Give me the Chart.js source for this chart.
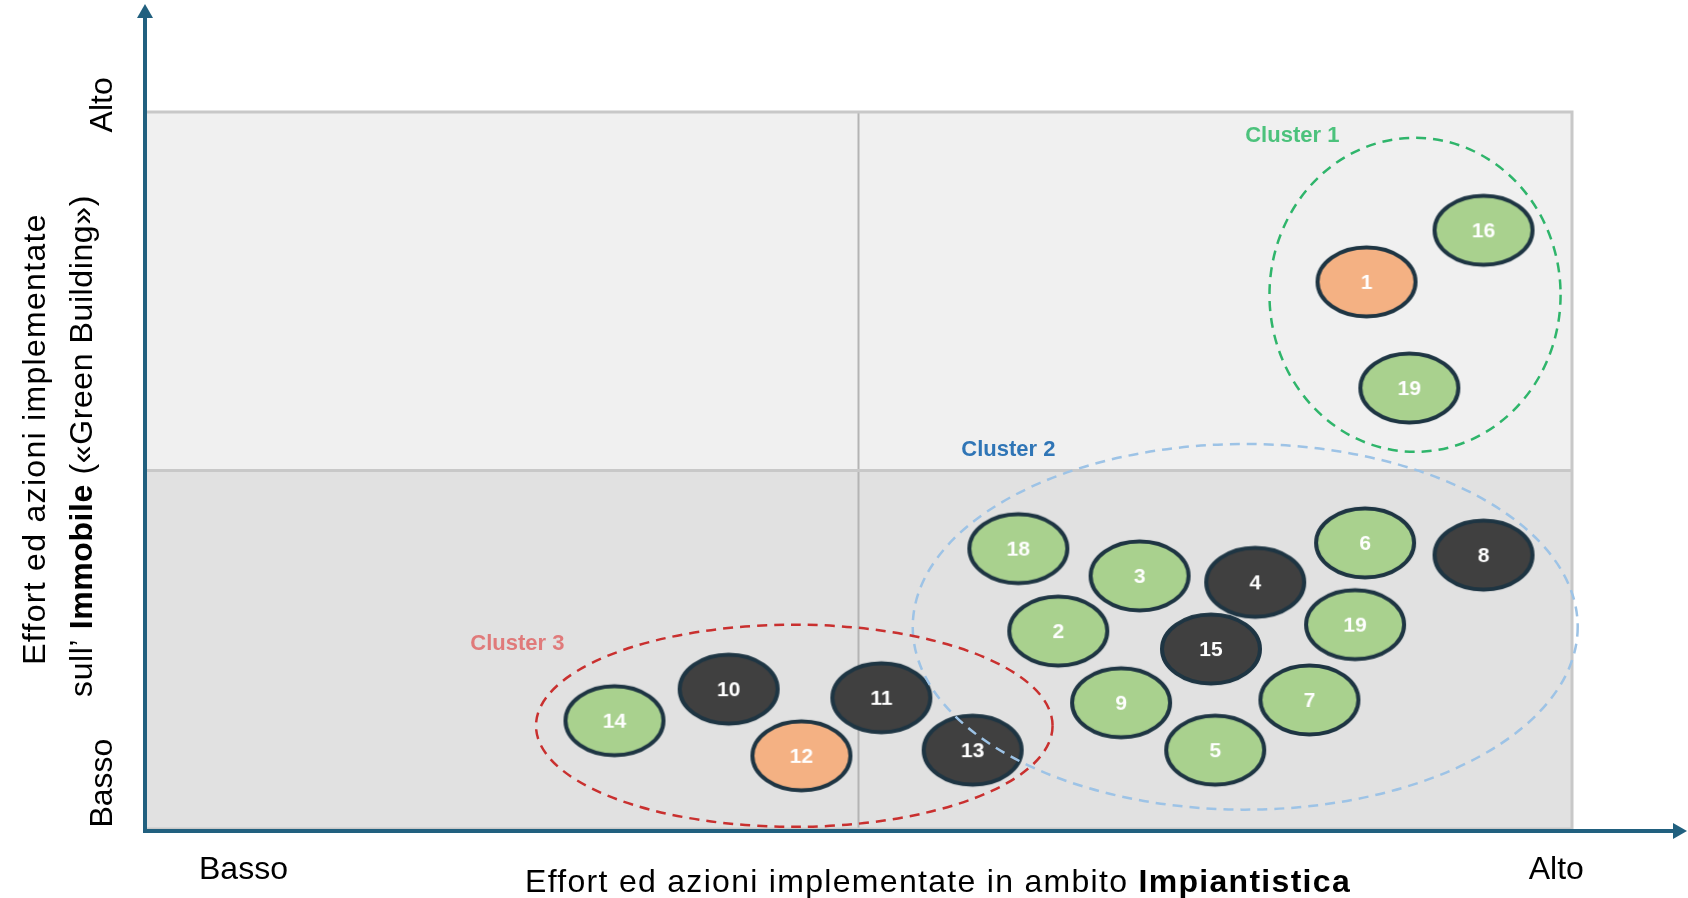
<!DOCTYPE html>
<html>
<head>
<meta charset="utf-8">
<script src="https://cdn.jsdelivr.net/npm/chart.js@4.4.1/dist/chart.umd.min.js"></script>
<style>
    html, body { margin: 0; padding: 0; background: #fff; }
    #wrap { width: 1688px; height: 898px; position: relative; }
</style>
</head>
<body>
<div id="wrap"><canvas id="matrice"></canvas></div>
<script>
// Dati (scala 0-10 su entrambi gli assi)
var pointLabels = ['16', '1', '19', '18', '3', '4', '6', '8', '2', '15', '19', '9', '7', '5', '14', '10', '12', '11', '13'];
var xValues = [9.38, 8.56, 8.86, 6.12, 6.97, 7.78, 8.55, 9.38, 6.40, 7.47, 8.48, 6.84, 8.16, 7.50, 3.29, 4.09, 4.60, 5.16, 5.80];
var yValues = [8.35, 7.63, 6.15, 3.91, 3.53, 3.44, 3.99, 3.82, 2.76, 2.51, 2.85, 1.76, 1.80, 1.10, 1.51, 1.95, 1.02, 1.83, 1.10];
var pointTypes = ['verde', 'arancio', 'verde', 'verde', 'verde', 'scuro', 'verde', 'scuro', 'verde', 'scuro',
                  'verde', 'verde', 'verde', 'verde', 'verde', 'scuro', 'arancio', 'scuro', 'scuro'];

var clusterNames = ['Cluster 1', 'Cluster 2', 'Cluster 3'];
var clusterX = [8.90, 7.71, 4.55];
var clusterY = [7.45, 2.82, 1.44];
var clusterRx = [1.02, 2.33, 1.81];
var clusterRy = [2.19, 2.55, 1.41];
var clusterLabelX = [8.04, 6.05, 2.61];
var clusterLabelY = [9.67, 5.29, 2.58];

var xTickLabels = ['Basso', 'Alto'];
var xTickValues = [0.69, 9.89];
var yTickLabels = ['Basso', 'Alto'];
var yTickValues = [0.64, 10.1];

var xTitle = [['Effort ed azioni implementate in ambito ', false], ['Impiantistica', true]];
var yTitle1 = [['Effort ed azioni implementate', false]];
var yTitle2 = [['sull\u2019 ', false], ['Immobile', true], [' (\u00abGreen Building\u00bb)', false]];

var FONT = '"Liberation Sans", Arial, sans-serif';
var fillColors = { verde: '#a9d18e', arancio: '#f4b183', scuro: '#404040' };
var clusterLine = ['#2fb56b', '#9dc3e6', '#c9302f'];
var clusterText = ['#4cc27c', '#2f75b6', '#e07a7a'];
var axisColor = '#21607f';

function makeBubble(label, fill) {
    var c = document.createElement('canvas');
    c.width = 112;
    c.height = 84;
    var g = c.getContext('2d');
    g.beginPath();
    g.ellipse(56, 42, 49, 34.5, 0, 0, Math.PI * 2);
    g.fillStyle = fill;
    g.fill();
    g.lineWidth = 4;
    g.strokeStyle = '#1e3543';
    g.stroke();
    g.fillStyle = '#ffffff';
    g.font = 'bold 21px ' + FONT;
    g.textAlign = 'center';
    g.textBaseline = 'middle';
    g.fillText(label, 56, 43);
    return c;
}

var bubbleImages = pointLabels.map(function(l, i) {
    return makeBubble(l, fillColors[pointTypes[i]]);
});

var points = xValues.map(function(x, i) { return { x: x, y: yValues[i] }; });

// testo con parti in grassetto, centrato su (cx, baseline)
function drawRich(ctx, parts, cx, by, size, spacing) {
    ctx.letterSpacing = spacing + 'px';
    var w = 0;
    parts.forEach(function(p) {
        ctx.font = (p[1] ? 'bold ' : '') + size + 'px ' + FONT;
        w += ctx.measureText(p[0]).width;
    });
    var x = cx - w / 2;
    ctx.textAlign = 'left';
    ctx.textBaseline = 'alphabetic';
    parts.forEach(function(p) {
        ctx.font = (p[1] ? 'bold ' : '') + size + 'px ' + FONT;
        ctx.fillText(p[0], x, by);
        x += ctx.measureText(p[0]).width;
    });
    ctx.letterSpacing = '0px';
}

var quadrantPlugin = {
    id: 'quadranti',
    beforeDatasetsDraw: function(chart) {
        var ctx = chart.ctx, a = chart.chartArea;
        var xs = chart.scales.x, ys = chart.scales.y;
        var mx = xs.getPixelForValue(5), my = ys.getPixelForValue(5);
        ctx.save();
        ctx.fillStyle = '#f0f0f0';
        ctx.fillRect(a.left, a.top, a.right - a.left, my - a.top);
        ctx.fillStyle = '#e1e1e1';
        ctx.fillRect(a.left, my, a.right - a.left, a.bottom - my);
        ctx.strokeStyle = '#b4b4b4';
        ctx.lineWidth = 2;
        ctx.beginPath();
        ctx.moveTo(mx, a.top);
        ctx.lineTo(mx, a.bottom);
        ctx.stroke();
        ctx.strokeStyle = '#c8c8c8';
        ctx.lineWidth = 3;
        ctx.beginPath();
        ctx.moveTo(a.left, my);
        ctx.lineTo(a.right, my);
        ctx.stroke();
        ctx.strokeRect(a.left, a.top, a.right - a.left, a.bottom - a.top);
        ctx.restore();
    },
    afterDatasetsDraw: function(chart) {
        var ctx = chart.ctx, a = chart.chartArea;
        var xs = chart.scales.x, ys = chart.scales.y;
        ctx.save();

        // cluster
        clusterNames.forEach(function(name, i) {
            var cx = xs.getPixelForValue(clusterX[i]);
            var cy = ys.getPixelForValue(clusterY[i]);
            var rx = xs.getPixelForValue(clusterX[i] + clusterRx[i]) - cx;
            var ry = cy - ys.getPixelForValue(clusterY[i] + clusterRy[i]);
            ctx.beginPath();
            ctx.ellipse(cx, cy, rx, ry, 0, 0, Math.PI * 2);
            ctx.setLineDash([10, 7]);
            ctx.lineWidth = 2.5;
            ctx.strokeStyle = clusterLine[i];
            ctx.stroke();
            ctx.setLineDash([]);
            ctx.fillStyle = clusterText[i];
            ctx.font = 'bold 22px ' + FONT;
            ctx.textAlign = 'center';
            ctx.textBaseline = 'middle';
            ctx.fillText(name, xs.getPixelForValue(clusterLabelX[i]), ys.getPixelForValue(clusterLabelY[i]));
        });

        // assi con frecce
        var ax = a.left, ay = a.bottom + 2;
        ctx.strokeStyle = axisColor;
        ctx.fillStyle = axisColor;
        ctx.lineWidth = 4;
        ctx.beginPath();
        ctx.moveTo(ax, ay + 2);
        ctx.lineTo(ax, 16);
        ctx.moveTo(ax - 2, ay);
        ctx.lineTo(chart.width - 12, ay);
        ctx.stroke();
        ctx.beginPath();
        ctx.moveTo(ax, 4);
        ctx.lineTo(ax - 8, 18);
        ctx.lineTo(ax + 8, 18);
        ctx.closePath();
        ctx.fill();
        ctx.beginPath();
        ctx.moveTo(chart.width - 1, ay);
        ctx.lineTo(chart.width - 15, ay - 8);
        ctx.lineTo(chart.width - 15, ay + 8);
        ctx.closePath();
        ctx.fill();

        // etichette assi
        ctx.fillStyle = '#000';
        ctx.font = '32px ' + FONT;
        ctx.textAlign = 'center';
        ctx.textBaseline = 'alphabetic';
        xTickLabels.forEach(function(t, i) {
            ctx.fillText(t, xs.getPixelForValue(xTickValues[i]), 879);
        });
        drawRich(ctx, xTitle, 938, 892, 32, 1.3);

        ctx.save();
        ctx.rotate(-Math.PI / 2);
        ctx.font = '32px ' + FONT;
        ctx.textAlign = 'center';
        yTickLabels.forEach(function(t, i) {
            ctx.fillText(t, -ys.getPixelForValue(yTickValues[i]), 112);
        });
        drawRich(ctx, yTitle1, -439, 45, 32, 1.3);
        drawRich(ctx, yTitle2, -446, 92, 32, 0.6);
        ctx.restore();

        ctx.restore();
    }
};

new Chart(document.getElementById('matrice'), {
    type: 'scatter',
    data: {
        datasets: [{
            data: points,
            pointStyle: bubbleImages,
            pointRadius: 40,
            pointHoverRadius: 40
        }]
    },
    options: {
        responsive: true,
        maintainAspectRatio: false,
        animation: false,
        devicePixelRatio: 1,
        events: [],
        layout: { padding: { left: 145, top: 112, right: 116, bottom: 69 } },
        plugins: {
            legend: { display: false },
            tooltip: { enabled: false }
        },
        scales: {
            x: { type: 'linear', min: 0, max: 10, display: false },
            y: { type: 'linear', min: 0, max: 10, display: false }
        }
    },
    plugins: [quadrantPlugin]
});
</script>
</body>
</html>
